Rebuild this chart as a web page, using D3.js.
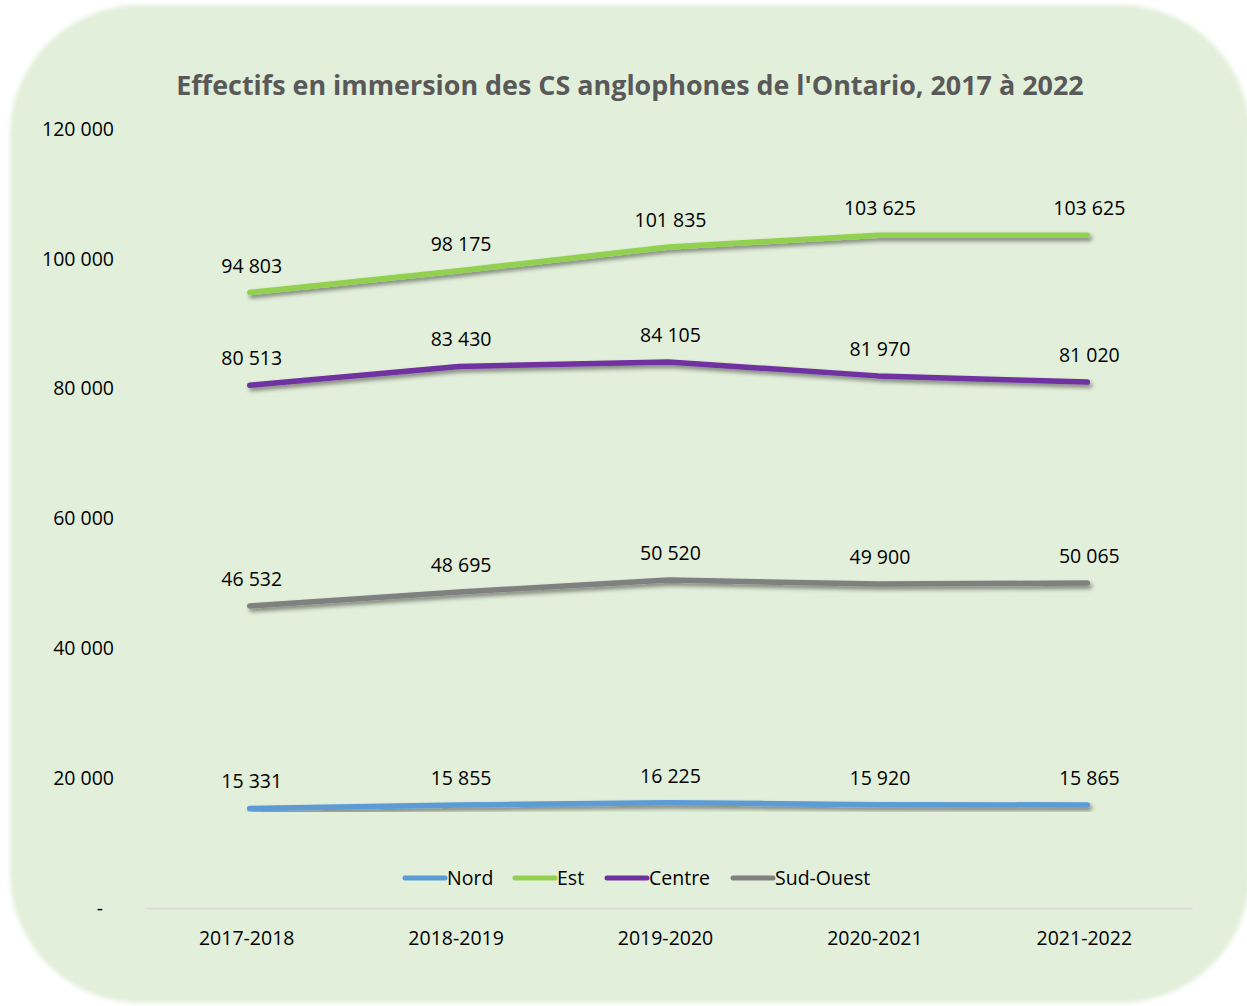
<!DOCTYPE html>
<html>
<head>
<meta charset="utf-8">
<script src="https://cdn.jsdelivr.net/npm/d3@7"></script>
<style>
  body { margin: 0; background: #fff; }
  svg text { font-family: "Open Sans", sans-serif; }
</style>
</head>
<body>
<svg width="1247" height="1006"></svg>
<script>
// chart values
let years = ["2017-2018", "2018-2019", "2019-2020", "2020-2021", "2021-2022"];
let nord = [15331, 15855, 16225, 15920, 15865];
let est = [94803, 98175, 101835, 103625, 103625];
let centre = [80513, 83430, 84105, 81970, 81020];
let sudOuest = [46532, 48695, 50520, 49900, 50065];
let yTicks = [0, 20000, 40000, 60000, 80000, 100000, 120000];

let series = [
    { name: "Nord", values: nord, color: "#5b9bd5" },
    { name: "Est", values: est, color: "#92d050" },
    { name: "Centre", values: centre, color: "#7030a0" },
    { name: "Sud-Ouest", values: sudOuest, color: "#808080" }
];

let svg = d3.select("svg");

let defs = svg.append("defs");
defs.append("filter")
    .attr("id", "glow")
    .attr("x", "-5%").attr("y", "-5%").attr("width", "110%").attr("height", "110%")
    .append("feGaussianBlur").attr("stdDeviation", 2);
defs.append("filter")
    .attr("id", "shadow")
    .attr("x", "-5%").attr("y", "-50%").attr("width", "110%").attr("height", "200%")
    .append("feDropShadow")
    .attr("dx", 2).attr("dy", 3).attr("stdDeviation", 2)
    .attr("flood-color", "#000").attr("flood-opacity", 0.45);

// background panel
svg.append("rect")
    .attr("x", 10).attr("y", 5)
    .attr("width", 1240).attr("height", 998)
    .attr("rx", 130).attr("ry", 130)
    .attr("fill", "#e2efda")
    .attr("filter", "url(#glow)");

let plotLeft = 145, plotRight = 1192, plotTop = 129, plotBottom = 908;

let x = d3.scaleBand().domain(years).range([plotLeft, plotRight]);
let y = d3.scaleLinear().domain([0, 120000]).range([plotBottom, plotTop]);

let fmt = function (v) {
    return d3.format(",")(v).replace(/,/g, " ");
};

// title
let title = svg.append("text")
    .attr("x", 630).attr("y", 95)
    .attr("text-anchor", "middle")
    .attr("font-weight", "bold")
    .attr("fill", "#595959")
    .attr("font-size", 26)
    .text("Effectifs en immersion des CS anglophones de l'Ontario, 2017 à 2022");
let tw = title.node().getComputedTextLength();
title.attr("font-size", 26 * 908 / tw);

// y axis labels
let yAxis = d3.axisLeft(y)
    .tickValues(yTicks)
    .tickSize(0)
    .tickPadding(0)
    .tickFormat(function (d) { return d === 0 ? "-" : fmt(d); });

let gy = svg.append("g")
    .attr("transform", "translate(114,0)")
    .call(yAxis);
gy.select(".domain").remove();
gy.selectAll("text")
    .attr("font-size", 19.5)
    .attr("fill", "#000")
    .attr("font-family", "Open Sans, sans-serif")
    .attr("dx", function (d) { return d === 0 ? -11 : 0; });

// x axis
let xAxis = d3.axisBottom(x).tickSize(0).tickPadding(23);
let gx = svg.append("g")
    .attr("transform", "translate(0," + plotBottom + ")")
    .call(xAxis);
gx.select(".domain").attr("stroke", "#d9d9d9").attr("stroke-width", 1.5);
gx.selectAll("text")
    .attr("font-size", 19.5)
    .attr("fill", "#000")
    .attr("font-family", "Open Sans, sans-serif")
    .attr("dx", -3);

let line = d3.line()
    .x(function (d, i) { return x(years[i]) + x.bandwidth() / 2; })
    .y(function (d) { return y(d); });

let groups = svg.selectAll(".serie")
    .data(series)
    .join("g")
    .attr("class", "serie");

groups.append("path")
    .attr("d", function (d) { return line(d.values); })
    .attr("fill", "none")
    .attr("stroke", function (d) { return d.color; })
    .attr("stroke-width", 5.5)
    .attr("stroke-linecap", "round")
    .attr("stroke-linejoin", "round")
    .attr("filter", "url(#shadow)");

groups.selectAll("text.lbl")
    .data(function (d) { return d.values; })
    .join("text")
    .attr("class", "lbl")
    .attr("x", function (d, i) { return x(years[i]) + x.bandwidth() / 2 + 2; })
    .attr("y", function (d) { return y(d) - 20; })
    .attr("text-anchor", "middle")
    .attr("font-size", 19.5)
    .attr("fill", "#000")
    .text(function (d) { return fmt(d); });

// legend
let legendX = [403, 513, 605, 731];
let legend = svg.selectAll(".leg")
    .data(series)
    .join("g")
    .attr("class", "leg")
    .attr("transform", function (d, i) { return "translate(" + legendX[i] + ",878)"; });
legend.append("line")
    .attr("x1", 2).attr("x2", 42)
    .attr("stroke", function (d) { return d.color; })
    .attr("stroke-width", 5)
    .attr("stroke-linecap", "round");
legend.append("text")
    .attr("x", 44).attr("y", 7)
    .attr("font-size", 19.5)
    .attr("fill", "#000")
    .text(function (d) { return d.name; });
</script>
</body>
</html>
